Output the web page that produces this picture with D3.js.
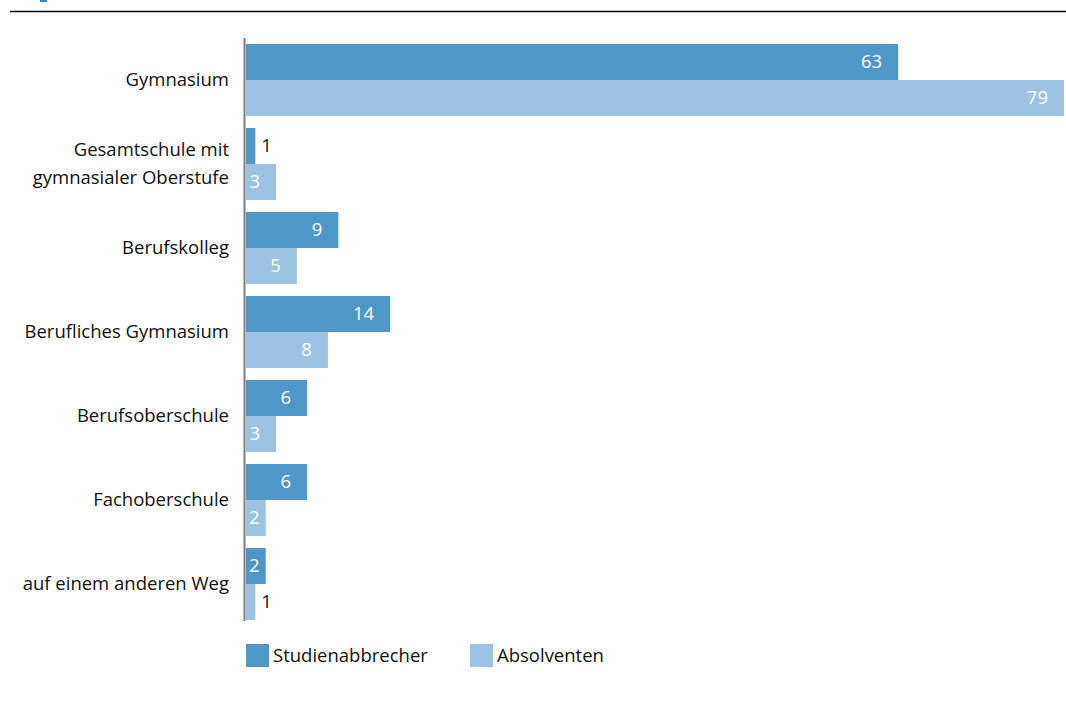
<!DOCTYPE html>
<html><head><meta charset="utf-8">
<script src="https://cdn.jsdelivr.net/npm/d3@7"></script>
<style>
html,body{margin:0;padding:0;background:#fff;}
svg{display:block;}
text{font-family:"Open Sans",sans-serif;}
</style></head>
<body>
<svg id="chart" width="1066" height="702"></svg>
<script>
const categories = [["Gymnasium"],["Gesamtschule mit","gymnasialer Oberstufe"],["Berufskolleg"],["Berufliches Gymnasium"],["Berufsoberschule"],["Fachoberschule"],["auf einem anderen Weg"]];
const seriesNames = ["Studienabbrecher","Absolventen"];
const studienabbrecher = [63,1,9,14,6,6,2];
const absolventen = [79,3,5,8,3,2,1];
const colors = ["#4f96c9","#9cc3e2"];

const svg = d3.select("#chart");
const fs = 18.5;
// header rule and marker
svg.append("rect").attr("x",40).attr("y",0).attr("width",7).attr("height",2).attr("fill","#2a8ac8");
svg.append("line").attr("x1",10).attr("x2",1066).attr("y1",11.5).attr("y2",11.5).attr("stroke","#000").attr("stroke-width",1.5);

const x = d3.scaleLinear().domain([0,79]).range([245,1064]);
const keys = categories.map((c,i)=>i);
const y = d3.scaleBand().domain(keys).range([38,626]).paddingInner(12/84).paddingOuter(6/84);
const y1 = d3.scaleBand().domain([0,1]).range([0,y.bandwidth()]);
const series = [studienabbrecher, absolventen];

const g = svg.append("g");
series.forEach((vals,s)=>{
  vals.forEach((v,i)=>{
    const top = y(i)+y1(s);
    g.append("rect").attr("x",x(0)+1).attr("y",top).attr("width",x(v)-x(0)-1).attr("height",y1.bandwidth()).attr("fill",colors[s]);
    const t = g.append("text").attr("y",top+y1.bandwidth()/2).attr("dy","0.35em").attr("font-size",fs).text(v);
    const w = t.node().getComputedTextLength();
    if (v>=2){
      const xs = Math.max(x(v)-16-w, x(0)+4);
      t.attr("x",xs).attr("fill","#fff");
    } else {
      t.attr("x",x(v)+6).attr("fill","#111");
    }
  });
});

// axis line
svg.append("line").attr("x1",244.5).attr("x2",244.5).attr("y1",38).attr("y2",621).attr("stroke","#808080").attr("stroke-width",2);

// category labels
categories.forEach((lines,i)=>{
  const cy = y(i)+y.bandwidth()/2;
  lines.forEach((ln,k)=>{
    const off = (k-(lines.length-1)/2)*28;
    svg.append("text").attr("x",229).attr("y",cy+off).attr("dy","0.35em").attr("text-anchor","end").attr("font-size",fs).attr("fill","#111").text(ln);
  });
});

// legend
const legX = [246,470];
seriesNames.forEach((n,s)=>{
  svg.append("rect").attr("x",legX[s]).attr("y",644).attr("width",23).attr("height",23).attr("fill",colors[s]);
  svg.append("text").attr("x",legX[s]+27).attr("y",655.5).attr("dy","0.35em").attr("font-size",fs).attr("fill","#111").text(n);
});
</script>
</body></html>
